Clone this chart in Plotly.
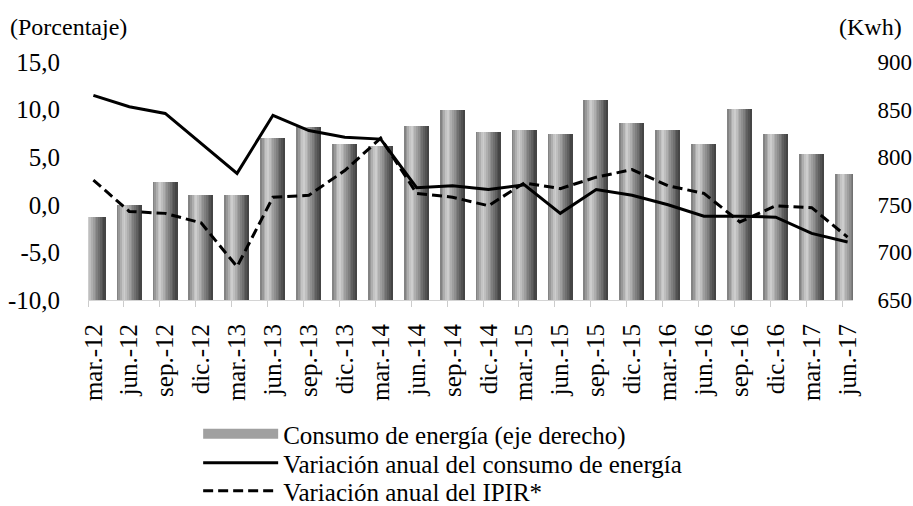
import plotly.graph_objects as go

categories = ["mar.-12", "jun.-12", "sep.-12", "dic.-12", "mar.-13", "jun.-13", "sep.-13",
              "dic.-13", "mar.-14", "jun.-14", "sep.-14", "dic.-14", "mar.-15", "jun.-15",
              "sep.-15", "dic.-15", "mar.-16", "jun.-16", "sep.-16", "dic.-16", "mar.-17",
              "jun.-17"]
consumo_energia = [737, 750, 774, 760, 760, 820, 832, 814, 812, 833, 850, 827, 829, 824,
                   860, 836, 829, 814, 851, 824, 803, 782]
var_consumo = [11.5, 10.3, 9.6, 6.5, 3.3, 9.4, 7.8, 7.1, 6.9, 1.8, 2.0, 1.6, 2.1, -0.9,
               1.6, 1.0, 0.0, -1.2, -1.2, -1.3, -3.0, -3.9]
var_ipir = [2.6, -0.7, -0.9, -1.9, -6.5, 0.8, 1.0, 3.6, 7.0, 1.2, 0.8, -0.1, 2.3, 1.7,
            2.9, 3.7, 2.0, 1.2, -1.8, -0.1, -0.3, -3.4]
left_ticks = [-10, -5, 0, 5, 10, 15]
left_tick_labels = ["-10,0", "-5,0", "0,0", "5,0", "10,0", "15,0"]
right_ticks = [650, 700, 750, 800, 850, 900]

FONT = "Liberation Serif"
FS = 25
xidx = list(range(len(categories)))

fig = go.Figure()

# cylindrical grey gradient built from thin overlaid bar strips
bw = 0.68
N = 14
stops = [(0.0, 120), (0.3, 210), (0.55, 155), (0.85, 90), (1.0, 62)]


def grey(t):
    for (t0, g0), (t1, g1) in zip(stops[:-1], stops[1:]):
        if t0 <= t <= t1:
            return int(round(g0 + (g1 - g0) * (t - t0) / (t1 - t0)))
    return stops[-1][1]


for k in range(N):
    g = grey((k + 0.5) / N)
    fig.add_trace(go.Bar(
        x=xidx, y=consumo_energia, yaxis="y",
        width=bw / N + 0.002, offset=-bw / 2 + k * bw / N,
        marker=dict(color=f"rgb({g},{g},{g})", line=dict(width=0)),
        name="Consumo de energía (eje derecho)",
        showlegend=False, hoverinfo="skip",
    ))
# legend entry standing for the bars
fig.add_trace(go.Scatter(
    x=[None], y=[None], yaxis="y", mode="lines",
    line=dict(color="#a0a0a0", width=13),
    name="Consumo de energía (eje derecho)", showlegend=True, legend="legend",
))

fig.add_trace(go.Scatter(
    x=xidx, y=var_consumo, yaxis="y2", mode="lines",
    line=dict(color="black", width=3),
    name="Variación anual del consumo de energía", legend="legend2",
))
fig.add_trace(go.Scatter(
    x=xidx, y=var_ipir, yaxis="y2", mode="lines",
    line=dict(color="black", width=3, dash="10px,5px"),
    name="Variación anual del IPIR*", legend="legend3",
))


def leg(ycenter_px):
    return dict(
        x=0.144, xref="paper", xanchor="left",
        y=1 - ycenter_px / 506, yref="container", yanchor="middle",
        bgcolor="rgba(0,0,0,0)", font=dict(family=FONT, size=FS),
        itemwidth=75, borderwidth=0,
    )


fig.update_layout(
    width=913, height=506, autosize=False,
    margin=dict(l=88, r=60, t=62, b=206, autoexpand=False),
    paper_bgcolor="white", plot_bgcolor="white",
    separators=",.",
    barmode="overlay", bargap=0,
    font=dict(family=FONT, size=FS, color="black"),
    xaxis=dict(
        range=[-0.15, 21.15], tickmode="array", tickvals=xidx, ticktext=categories,
        tickangle=-90, showgrid=False, zeroline=False, automargin=False,
        showline=True, linecolor="#d4d4d4", linewidth=1,
        ticks="outside", ticklen=13, tickcolor="rgba(0,0,0,0)",
        tickfont=dict(family=FONT, size=FS),
        minor=dict(tickmode="linear", tick0=-0.15, dtick=1, ticks="outside",
                   ticklen=6, tickcolor="#cccccc", tickwidth=1, showgrid=False),
    ),
    yaxis=dict(
        side="right", range=[650, 900], tickmode="array", tickvals=right_ticks,
        showgrid=False, zeroline=False, showline=False, automargin=False,
        ticks="outside", ticklen=19, tickcolor="rgba(0,0,0,0)",
        tickfont=dict(family=FONT, size=23),
    ),
    yaxis2=dict(
        overlaying="y", side="left", range=[-10, 15], tickmode="array",
        tickvals=left_ticks, ticktext=left_tick_labels,
        showgrid=False, zeroline=False, showline=False, automargin=False,
        ticks="outside", ticklen=22, tickcolor="rgba(0,0,0,0)",
        tickfont=dict(family=FONT, size=FS),
    ),
    legend=leg(434),
    legend2=leg(463),
    legend3=leg(491),
    annotations=[
        dict(text="(Porcentaje)", xref="paper", yref="paper", x=-0.104, y=1.147,
             xanchor="left", yanchor="middle", showarrow=False,
             font=dict(family=FONT, size=24)),
        dict(text="(Kwh)", xref="paper", yref="paper", x=1.067, y=1.147,
             xanchor="right", yanchor="middle", showarrow=False,
             font=dict(family=FONT, size=24)),
    ],
)

fig.write_html(
    "out.html",
    config={"displayModeBar": False},
    post_script="document.body.style.margin='0';document.body.style.overflow='hidden';",
)
